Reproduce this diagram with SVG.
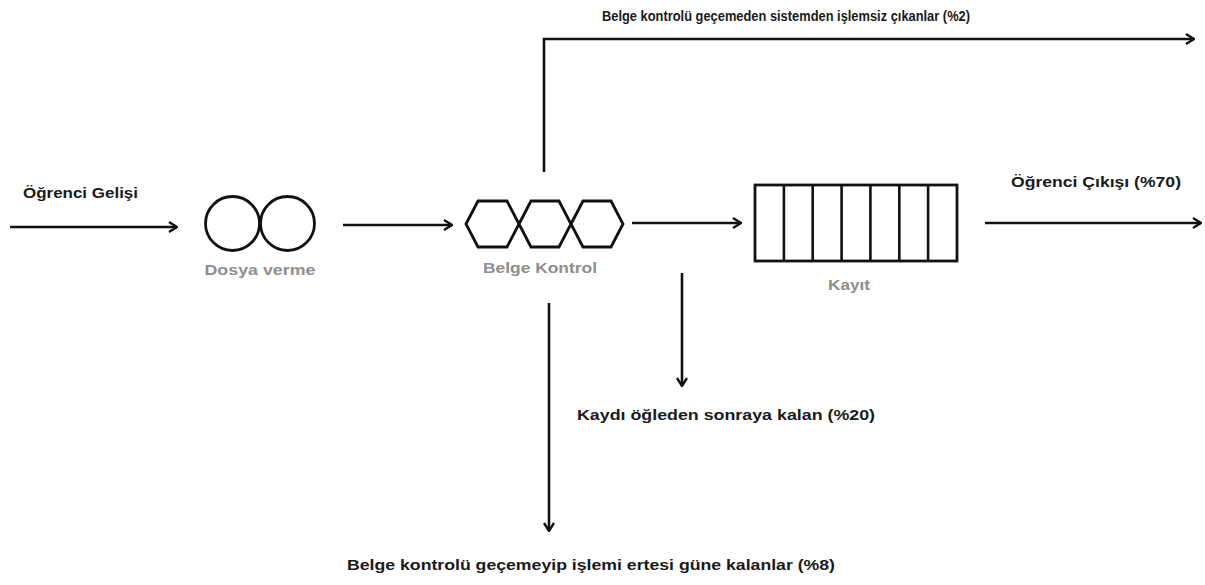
<svg xmlns="http://www.w3.org/2000/svg" width="1205" height="585" viewBox="0 0 1205 585">
  <style>
    .flow { fill: none; stroke: #111; stroke-width: 2.6; stroke-linecap: butt; }
    .shape { fill: #fff; stroke: #111; stroke-width: 2.8; stroke-linejoin: miter; }
    .lbl { font-family: "Liberation Sans", Arial, sans-serif; font-weight: bold; font-size: 15px; fill: #1a1a1a; }
    .name { font-family: "Liberation Sans", Arial, sans-serif; font-weight: bold; font-size: 15px; fill: #8e8e8e; text-anchor: middle; }
  </style>
  <defs>
    <marker id="head" viewBox="0 0 10 12" refX="9" refY="6" markerWidth="10" markerHeight="12" markerUnits="userSpaceOnUse" orient="auto">
      <path d="M1,1 L9,6 L1,11" fill="none" stroke="#111" stroke-width="2.4"/>
    </marker>
  </defs>

  <rect width="1205" height="585" fill="#fff"/>

  <!-- connectors -->
  <g id="connectors">
    <line class="flow" x1="10" y1="227" x2="177" y2="227" marker-end="url(#head)"/>
    <line class="flow" x1="343" y1="225" x2="452" y2="225" marker-end="url(#head)"/>
    <line class="flow" x1="632" y1="223" x2="741" y2="223" marker-end="url(#head)"/>
    <line class="flow" x1="985" y1="223" x2="1201" y2="223" marker-end="url(#head)"/>
    <polyline class="flow" points="544,172 544,39 1194,39" marker-end="url(#head)"/>
    <line class="flow" x1="682" y1="273" x2="682" y2="386" marker-end="url(#head)"/>
    <line class="flow" x1="549" y1="303" x2="549" y2="531" marker-end="url(#head)"/>
  </g>

  <!-- edge labels -->
  <g id="labels">
    <text class="lbl" x="23" y="198" textLength="115" lengthAdjust="spacingAndGlyphs">Öğrenci Gelişi</text>
    <text class="lbl" x="602" y="21" textLength="368" lengthAdjust="spacingAndGlyphs">Belge kontrolü geçemeden sistemden işlemsiz çıkanlar (%2)</text>
    <text class="lbl" x="1011" y="187" textLength="170" lengthAdjust="spacingAndGlyphs">Öğrenci Çıkışı (%70)</text>
    <text class="lbl" x="577" y="420" textLength="298" lengthAdjust="spacingAndGlyphs">Kaydı öğleden sonraya kalan (%20)</text>
    <text class="lbl" x="347" y="570" textLength="488" lengthAdjust="spacingAndGlyphs">Belge kontrolü geçemeyip işlemi ertesi güne kalanlar (%8)</text>
  </g>

  <!-- two parallel servers -->
  <g id="dosya-verme">
    <circle class="shape" cx="232.5" cy="223.5" r="27"/>
    <circle class="shape" cx="287.5" cy="223.5" r="27"/>
    <text class="name" x="260" y="275" textLength="111" lengthAdjust="spacingAndGlyphs">Dosya verme</text>
  </g>

  <!-- three hexagonal control stations -->
  <g id="belge-kontrol">
    <polygon class="shape" points="466,224 478,201 507,201 519,224 507,247 478,247"/>
    <polygon class="shape" points="519,224 531,201 559,201 571,224 559,247 531,247"/>
    <polygon class="shape" points="571,224 583,201 611,201 623,224 611,247 583,247"/>
    <text class="name" x="540" y="273" textLength="114" lengthAdjust="spacingAndGlyphs">Belge Kontrol</text>
  </g>

  <!-- registration queue -->
  <g id="kayit">
    <rect class="shape" x="755" y="185" width="202" height="76"/>
    <g stroke="#111" stroke-width="2.6">
      <line x1="783.9" y1="185" x2="783.9" y2="261"/>
      <line x1="812.7" y1="185" x2="812.7" y2="261"/>
      <line x1="841.6" y1="185" x2="841.6" y2="261"/>
      <line x1="870.4" y1="185" x2="870.4" y2="261"/>
      <line x1="899.3" y1="185" x2="899.3" y2="261"/>
      <line x1="928.1" y1="185" x2="928.1" y2="261"/>
    </g>
    <text class="name" x="849" y="290" textLength="42" lengthAdjust="spacingAndGlyphs">Kayıt</text>
  </g>
</svg>
